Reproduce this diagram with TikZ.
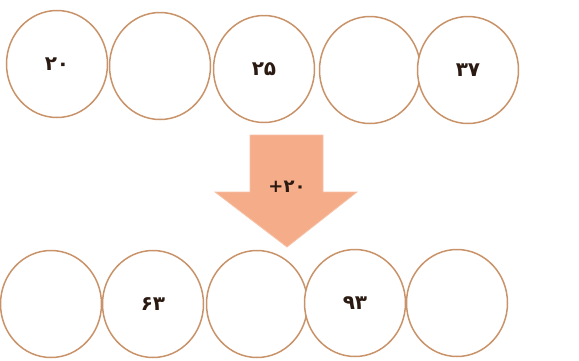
\documentclass[tikz,border=0pt]{standalone}
\usepackage{fontspec}
\newfontfamily\persian[Script=Arabic]{DejaVu Sans}
\usetikzlibrary{shapes.geometric}
\definecolor{ringDraw}{HTML}{C9936A}
\definecolor{arrowFill}{HTML}{F5AC89}
\definecolor{arrowDraw}{HTML}{F7C2A6}
\definecolor{numText}{HTML}{2A1A12}
\tikzset{
  ring/.style ={ellipse, draw=ringDraw, line width=1.5pt, fill=white,
                minimum width=101pt, minimum height=107pt, inner sep=0pt},
  num/.style  ={font=\persian\bfseries\fontsize{20}{24}\selectfont, text=numText},
}

\begin{document}
\begin{tikzpicture}[x=1pt, y=-1pt]
  \useasboundingbox (0,0) rectangle (579,360);

  % top row
  \node[ring, num] (t1) at (57,64)  {۲۰};
  \node[ring, num] (t2) at (160,66) {};
  \node[ring, num] (t3) at (264,69) {۲۵};
  \node[ring, num] (t4) at (370,70) {};
  \node[ring, num] (t5) at (468,70) {۳۷};

  % the step between the rows
  \draw[fill=arrowFill, draw=arrowDraw, line width=0.8pt]
    (250,135) -- (323,135) -- (323,192) -- (357,192) -- (287,247)
    -- (215,192) -- (250,192) -- cycle;
  \node[num, font=\persian\bfseries\fontsize{18}{22}\selectfont] (step) at (287,187) {\mbox{+}\mbox{۲۰}};

  % bottom row
  \node[ring, num] (b1) at (51,304)  {};
  \node[ring, num] (b2) at (153,304) {۶۳};
  \node[ring, num] (b3) at (257,304) {};
  \node[ring, num] (b4) at (355,303) {۹۳};
  \node[ring, num] (b5) at (457,303) {};
\end{tikzpicture}
\end{document}
